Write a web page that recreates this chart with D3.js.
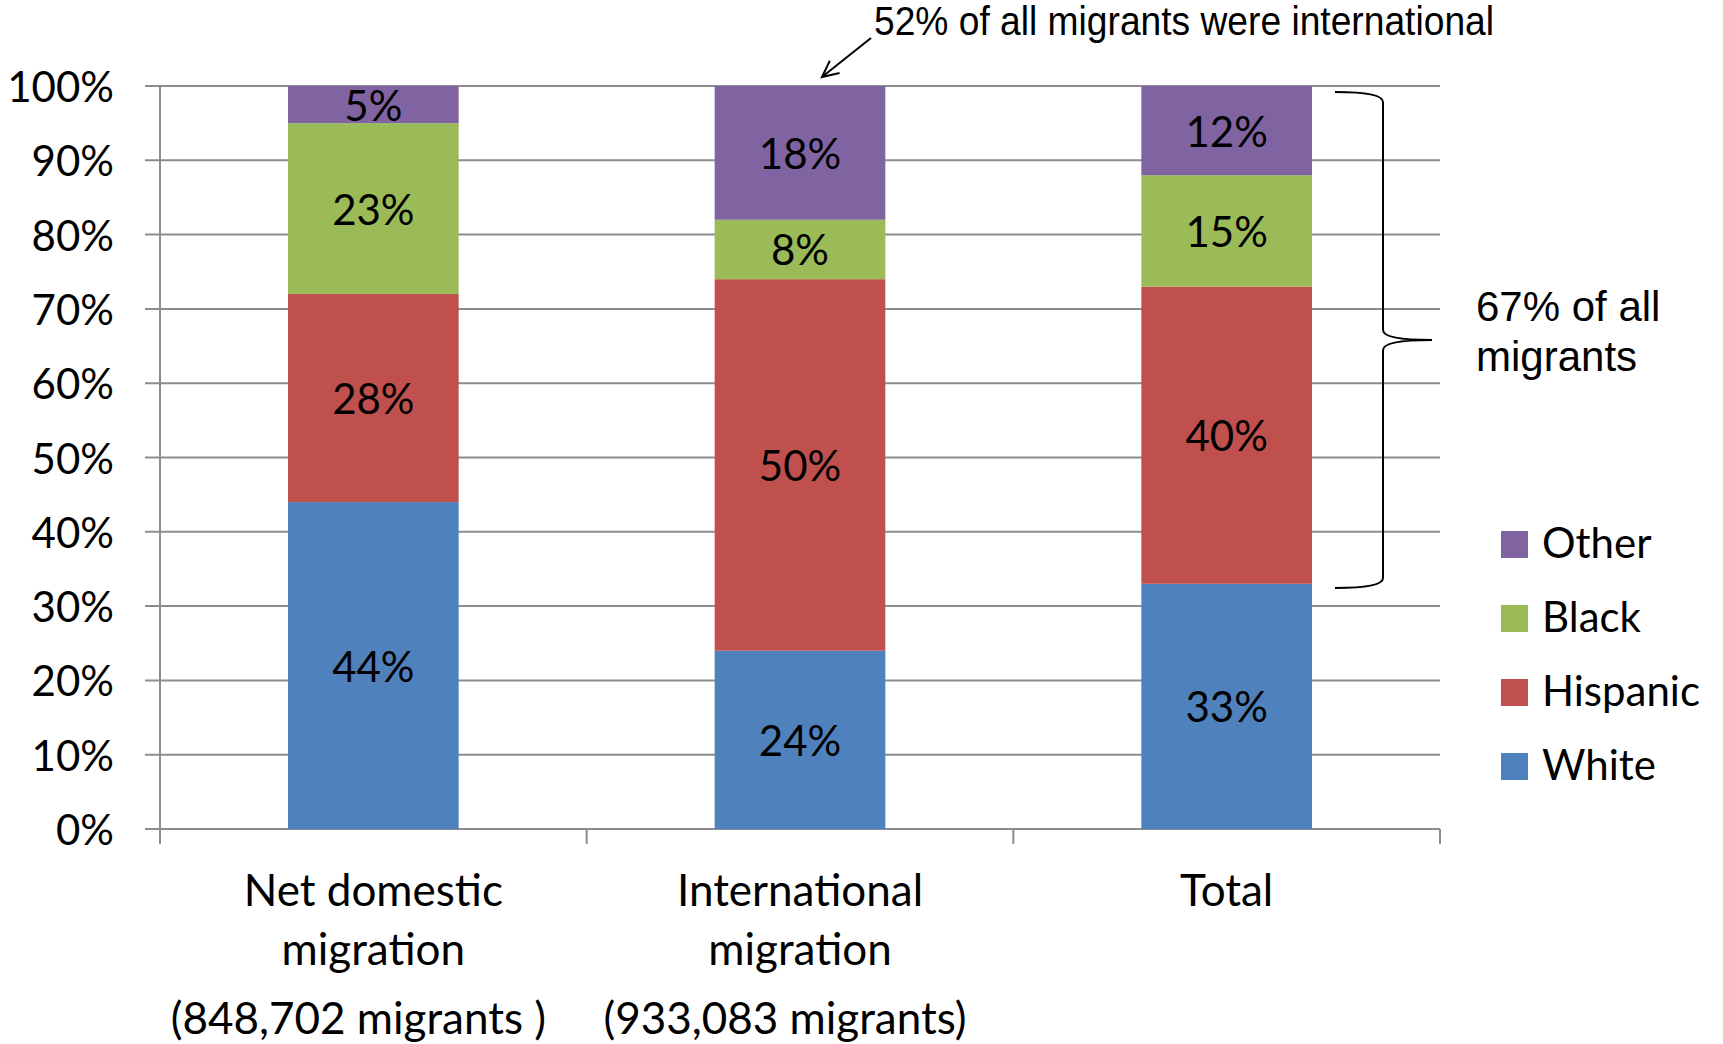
<!DOCTYPE html>
<html>
<head>
<meta charset="utf-8">
<script src="https://cdn.jsdelivr.net/npm/d3@7"></script>
<style>
  html, body { margin: 0; padding: 0; background: #fff; }
  svg { display: block; }
  .calib { font-family: Lato, "Open Sans", sans-serif; fill: #000; }
  .arial { font-family: "Liberation Sans", Arial, sans-serif; fill: #000; }
</style>
</head>
<body>
<script>
// ---- data ----
const categories = ["Net domestic migration", "International migration", "Total"];
const categoryLines = [
  ["Net domestic", "migration", "(848,702 migrants )"],
  ["International", "migration", "(933,083 migrants)"],
  ["Total"]
];
const seriesNames = ["White", "Hispanic", "Black", "Other"];
const whiteValues = [44, 24, 33];
const hispanicValues = [28, 50, 40];
const blackValues = [23, 8, 15];
const otherValues = [5, 18, 12];
const yTicks = [0, 10, 20, 30, 40, 50, 60, 70, 80, 90, 100];
const seriesColors = ["#4F81BD", "#C0504D", "#9BBB59", "#8064A2"];
const annotationTop = "52% of all migrants were international";
const annotationRight = ["67% of all", "migrants"];

// ---- setup ----
const W = 1723, H = 1044;
const mLeft = 160, mRight = 1440, mTop = 86, mBottom = 829;

const svg = d3.select("body").append("svg").attr("width", W).attr("height", H);

const table = categories.map((c, i) => ({
  category: c,
  White: whiteValues[i],
  Hispanic: hispanicValues[i],
  Black: blackValues[i],
  Other: otherValues[i]
}));

const x = d3.scaleBand().domain(categories).range([mLeft, mRight])
  .paddingInner(0.6).paddingOuter(0.3);
const y = d3.scaleLinear().domain([0, 100]).range([mBottom, mTop]);
const color = d3.scaleOrdinal().domain(seriesNames).range(seriesColors);

const stacked = d3.stack().keys(seriesNames)(table);

// gridlines
svg.append("g").selectAll("line").data(yTicks).join("line")
  .attr("x1", mLeft - 15).attr("x2", mRight)
  .attr("y1", d => y(d)).attr("y2", d => y(d))
  .attr("stroke", "#8c8c8c").attr("stroke-width", 2);

// y axis line
svg.append("line").attr("x1", mLeft).attr("x2", mLeft)
  .attr("y1", mTop).attr("y2", mBottom + 15)
  .attr("stroke", "#8c8c8c").attr("stroke-width", 2);

// category tick marks (band boundaries)
const step = x.step();
const boundaries = d3.range(categories.length + 1).map(i => mLeft + i * step);
svg.append("g").selectAll("line").data(boundaries).join("line")
  .attr("x1", d => d).attr("x2", d => d)
  .attr("y1", mBottom).attr("y2", mBottom + 15)
  .attr("stroke", "#8c8c8c").attr("stroke-width", 2);

// y tick labels
svg.append("g").selectAll("text").data(yTicks).join("text")
  .attr("class", "calib")
  .attr("x", mLeft - 46).attr("y", d => y(d))
  .attr("text-anchor", "end").attr("dominant-baseline", "central")
  .style("font-size", "42px")
  .text(d => d + "%");

// bars
const layers = svg.append("g").selectAll("g").data(stacked).join("g")
  .attr("fill", d => color(d.key));
layers.selectAll("rect").data(d => d).join("rect")
  .attr("x", d => x(d.data.category))
  .attr("width", x.bandwidth())
  .attr("y", d => y(d[1]))
  .attr("height", d => y(d[0]) - y(d[1]));

// value labels
const labels = svg.append("g");
stacked.forEach(s => {
  labels.append("g").selectAll("text").data(s).join("text")
    .attr("class", "calib")
    .attr("x", d => x(d.data.category) + x.bandwidth() / 2)
    .attr("y", d => y((d[0] + d[1]) / 2))
    .attr("text-anchor", "middle").attr("dominant-baseline", "central")
    .style("font-size", "42px")
    .text(d => (d[1] - d[0]) + "%");
});

// category labels
const lineYs = [906, 965, 1034];
const lineDx = [0, 0, -15];
categoryLines.forEach((lines, i) => {
  const cx = x(categories[i]) + x.bandwidth() / 2;
  lines.forEach((t, j) => {
    svg.append("text").attr("class", "calib")
      .attr("x", cx + lineDx[j]).attr("y", lineYs[j])
      .attr("text-anchor", "middle")
      .style("font-size", "44px")
      .text(t);
  });
});

// legend (Other on top)
const legendOrder = seriesNames.slice().reverse();
const lg = svg.append("g");
legendOrder.forEach((name, i) => {
  const yy = 531 + i * 74;
  lg.append("rect").attr("x", 1501).attr("y", yy).attr("width", 27).attr("height", 27)
    .attr("fill", color(name));
  lg.append("text").attr("class", "calib")
    .attr("x", 1542).attr("y", yy + 10.5)
    .attr("dominant-baseline", "central")
    .style("font-size", "42px")
    .text(name);
});

// top annotation with arrow
svg.append("text").attr("class", "arial")
  .attr("x", 874).attr("y", 35)
  .style("font-size", "40px")
  .attr("textLength", 620).attr("lengthAdjust", "spacingAndGlyphs")
  .text(annotationTop);

const ax1 = 871, ay1 = 38, ax2 = 822, ay2 = 77;
svg.append("line").attr("x1", ax1).attr("y1", ay1).attr("x2", ax2).attr("y2", ay2)
  .attr("stroke", "#000").attr("stroke-width", 2);
const ang = Math.atan2(ay2 - ay1, ax2 - ax1);
const hl = 18, ha = Math.PI / 7;
svg.append("path")
  .attr("d", `M${ax2 - hl * Math.cos(ang - ha)},${ay2 - hl * Math.sin(ang - ha)} L${ax2},${ay2} L${ax2 - hl * Math.cos(ang + ha)},${ay2 - hl * Math.sin(ang + ha)}`)
  .attr("fill", "none").attr("stroke", "#000").attr("stroke-width", 2);

// right brace
const bx0 = 1335, bx1 = 1383, bx2 = 1432, byTop = 92, byBot = 588, byMid = 340;
svg.append("path")
  .attr("d", `M${bx0},${byTop} Q${bx1},${byTop} ${bx1},${byTop + 10} L${bx1},${byMid - 10} Q${bx1},${byMid} ${bx2},${byMid} Q${bx1},${byMid} ${bx1},${byMid + 10} L${bx1},${byBot - 10} Q${bx1},${byBot} ${bx0},${byBot}`)
  .attr("fill", "none").attr("stroke", "#000").attr("stroke-width", 2);

annotationRight.forEach((t, j) => {
  svg.append("text").attr("class", "arial")
    .attr("x", 1476).attr("y", 321 + j * 50)
    .style("font-size", "42px")
    .text(t);
});
</script>
</body>
</html>
